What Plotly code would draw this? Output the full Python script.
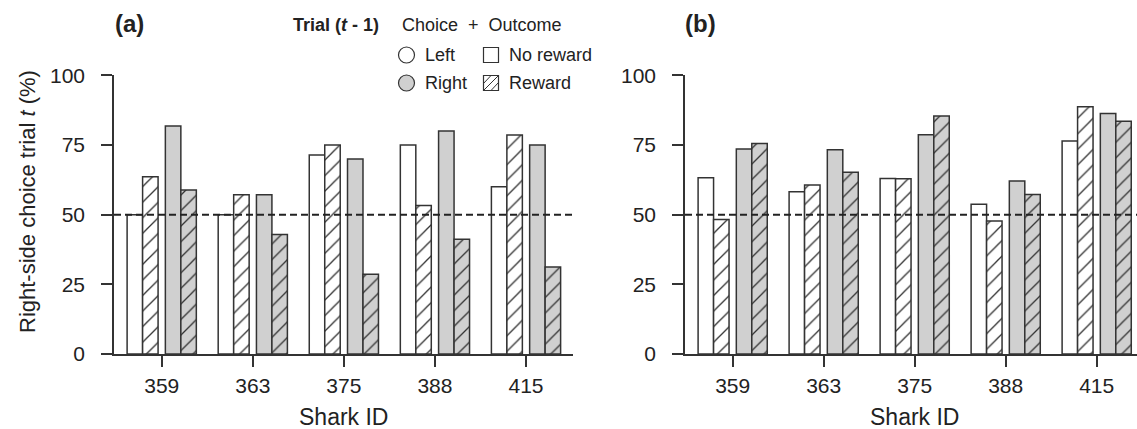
import numpy as np
import plotly.graph_objects as go

# Shark IDs (x categories)
sharks = ["359", "363", "375", "388", "415"]
y_ticks = [0, 25, 50, 75, 100]

# Panel (a): right-side choice (%) on trial t given trial t-1 choice + outcome
a_left_noreward = [50.0, 50.0, 71.4, 75.0, 60.0]
a_left_reward = [63.6, 57.1, 75.0, 53.3, 78.6]
a_right_noreward = [81.8, 57.1, 70.0, 80.0, 75.0]
a_right_reward = [58.8, 42.9, 28.6, 41.2, 31.2]

# Panel (b)
b_left_noreward = [63.2, 58.2, 63.0, 53.7, 76.4]
b_left_reward = [48.3, 60.6, 62.9, 47.7, 88.7]
b_right_noreward = [73.6, 73.3, 78.7, 62.1, 86.3]
b_right_reward = [75.5, 65.2, 85.4, 57.2, 83.5]

W, H = 1137, 429
FONT = "Liberation Sans, Arial, sans-serif"
INK = "#222222"
EDGE = "#333333"
GREY = "#d0d0d0"
BAR_W = 0.17
OFFSETS = [-0.295, -0.125, 0.125, 0.295]


def px_x(p):
    return p / W


def px_y(p):
    return 1 - p / H


fig = go.Figure()


def add_panel(series, xa, ya):
    idx = np.arange(len(sharks))
    styles = [
        dict(color="white", hatch=""),
        dict(color="white", hatch="/"),
        dict(color=GREY, hatch=""),
        dict(color=GREY, hatch="/"),
    ]
    for vals, off, st in zip(series, OFFSETS, styles):
        marker = dict(color=st["color"], line=dict(color=EDGE, width=1.5))
        if st["hatch"]:
            marker["pattern"] = dict(shape="/", size=11, solidity=0.12,
                                     fgcolor=EDGE, bgcolor=st["color"],
                                     fillmode="replace")
        fig.add_trace(go.Bar(x=idx + off, y=vals, width=BAR_W, marker=marker,
                             xaxis=xa, yaxis=ya, showlegend=False,
                             hoverinfo="y"))


add_panel([a_left_noreward, a_left_reward, a_right_noreward, a_right_reward], "x", "y")
add_panel([b_left_noreward, b_left_reward, b_right_noreward, b_right_reward], "x2", "y2")

y_lo, y_hi = px_y(354), px_y(75.3)

xcommon = dict(
    tickmode="array", tickvals=list(range(len(sharks))), ticktext=sharks,
    ticks="outside", ticklen=11, tickwidth=1.5, tickcolor=EDGE,
    showline=True, linecolor=EDGE, linewidth=1.5,
    showgrid=False, zeroline=False, automargin=False, ticklabelstandoff=1,
    tickfont=dict(family=FONT, size=21, color=INK),
    fixedrange=True,
)
ycommon = dict(
    range=[0, 100], tickmode="array", tickvals=y_ticks,
    ticks="outside", ticklen=11, tickwidth=1.5, tickcolor=EDGE,
    showline=True, linecolor=EDGE, linewidth=1.5,
    showgrid=False, zeroline=False, automargin=False, ticklabelstandoff=12,
    tickfont=dict(family=FONT, size=21, color=INK),
    fixedrange=True,
)

fig.update_layout(
    template="none",
    width=W, height=H,
    margin=dict(l=0, r=0, t=0, b=0, autoexpand=False),
    paper_bgcolor="white", plot_bgcolor="white",
    barmode="overlay",
    xaxis=dict(xcommon, domain=[px_x(114), px_x(573)], range=[-0.524, 4.516], anchor="y"),
    yaxis=dict(ycommon, domain=[y_lo, y_hi], anchor="x"),
    xaxis2=dict(xcommon, domain=[px_x(685), 1.0], range=[-0.524, 4.443], anchor="y2"),
    yaxis2=dict(ycommon, domain=[y_lo, y_hi], anchor="x2"),
)

# chance level
for xr, yr in (("x domain", "y"), ("x2 domain", "y2")):
    fig.add_shape(type="line", xref=xr, yref=yr, x0=0, x1=1, y0=50, y1=50,
                  line=dict(color=INK, width=2, dash="7px,4px"), layer="above")

annotations = []


def text(x, y, s, size=21, bold=False, xanchor="center", yanchor="middle", angle=0):
    annotations.append(dict(
        x=px_x(x), y=px_y(y), xref="paper", yref="paper", text=s, showarrow=False,
        xanchor=xanchor, yanchor=yanchor, textangle=angle,
        font=dict(family=FONT, size=size, color=INK, weight="bold" if bold else "normal"),
    ))


# panel labels
text(113, 24, "(a)", size=24, bold=True, xanchor="left")
text(683, 24, "(b)", size=24, bold=True, xanchor="left")

# axis titles
text(343, 417, "Shark ID", size=23)
text(914, 417, "Shark ID", size=23)
text(27, 202, "Right-side choice trial <i>t</i> (%)", size=22, angle=-90)

# legend
text(291, 25, "Trial (<i>t</i> - 1)", size=18, bold=True, xanchor="left")
text(400, 25, "Choice  +  Outcome", size=18, xanchor="left")
text(423, 55, "Left", size=18, xanchor="left")
text(423, 83, "Right", size=18, xanchor="left")
text(507, 55, "No reward", size=18, xanchor="left")
text(507, 83, "Reward", size=18, xanchor="left")
fig.update_layout(annotations=annotations)

# legend glyphs
for cy, fill in ((55, "white"), (83, GREY)):
    fig.add_shape(type="circle", xref="paper", yref="paper",
                  x0=px_x(398.5), x1=px_x(414.5), y0=px_y(cy + 8), y1=px_y(cy - 8),
                  fillcolor=fill, line=dict(color=EDGE, width=1.2))
for cy in (55, 83):
    fig.add_shape(type="rect", xref="paper", yref="paper",
                  x0=px_x(483.5), x1=px_x(498.5), y0=px_y(cy + 7.5), y1=px_y(cy - 7.5),
                  fillcolor="white", line=dict(color=EDGE, width=1.2))
# diagonal hatch inside the "Reward" key
cy = 83
for (x0, y0, x1, y1) in ((483.5, cy + 7.5, 498.5, cy - 7.5),
                         (483.5, cy + 0.5, 491.0, cy - 7.5),
                         (491.0, cy + 7.5, 498.5, cy - 0.5)):
    fig.add_shape(type="line", xref="paper", yref="paper",
                  x0=px_x(x0), y0=px_y(y0), x1=px_x(x1), y1=px_y(y1),
                  line=dict(color=EDGE, width=1))

fig.write_html("out.html")
